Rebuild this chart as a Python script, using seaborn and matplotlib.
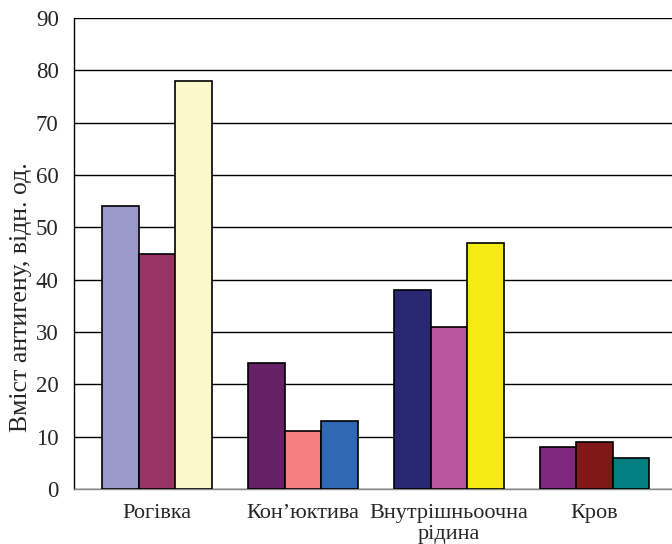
import matplotlib
matplotlib.use("Agg")
import matplotlib.pyplot as plt
import seaborn as sns
import pandas as pd

# Tissue groups and the three measurements in each
groups = ["Рогівка", "Кон\u2019юктива", "Внутрішньоочна\nрідина", "Кров"]
series = ["1", "2", "3"]
values = [
    [54, 45, 78],
    [24, 11, 13],
    [38, 31, 47],
    [8, 9, 6],
]
bar_colors = [
    ["#9999CC", "#993366", "#FBF8CC"],
    ["#662066", "#F48080", "#3068B4"],
    ["#282873", "#B8559E", "#F5EA14"],
    ["#802880", "#801818", "#008080"],
]
y_ticks = [0, 10, 20, 30, 40, 50, 60, 70, 80, 90]
y_label = "Вміст антигену, відн. од."

rows = []
for g, vals in zip(groups, values):
    for s, v in zip(series, vals):
        rows.append({"group": g, "series": s, "value": v})
df = pd.DataFrame(rows)

sns.set_style("white")
plt.rcParams["font.family"] = ["Liberation Serif", "DejaVu Serif"]

fig = plt.figure(figsize=(6.72, 5.44), dpi=100)
ax = fig.add_axes([0.110, 0.1011, 0.890, 0.8658])

sns.barplot(data=df, x="group", y="value", hue="series", order=groups,
            hue_order=series, palette=["#888888"] * 3, width=0.75,
            edgecolor="black", linewidth=1.2, legend=False, ax=ax, zorder=3)

# give every bar its own fill colour
for si, cont in enumerate(ax.containers):
    for gi, bar in enumerate(cont):
        bar.set_facecolor(bar_colors[gi][si])

ax.set_ylim(0, 90)
ax.set_xlim(-0.57, 3.53)
ax.set_yticks(y_ticks)
ax.set_yticklabels([str(t) for t in y_ticks], fontsize=16.5)
ax.tick_params(axis="y", direction="out", length=7, width=1, color="black", pad=4)
ax.tick_params(axis="x", length=0, labelsize=16, pad=11)
for lbl in ax.get_xticklabels():
    lbl.set_linespacing(1.15)
ax.set_xlabel("")
ax.set_ylabel(y_label, fontsize=18.5)
ax.yaxis.set_label_coords(-0.070, 0.408)

ax.yaxis.grid(True, color="black", linewidth=1.0)
ax.set_axisbelow(True)
for side in ["top", "right"]:
    ax.spines[side].set_visible(False)
ax.spines["left"].set_color("black")
ax.spines["left"].set_linewidth(1.0)
ax.spines["bottom"].set_color("#888888")
ax.spines["bottom"].set_linewidth(1.0)

fig.savefig("out.png", dpi=100)
